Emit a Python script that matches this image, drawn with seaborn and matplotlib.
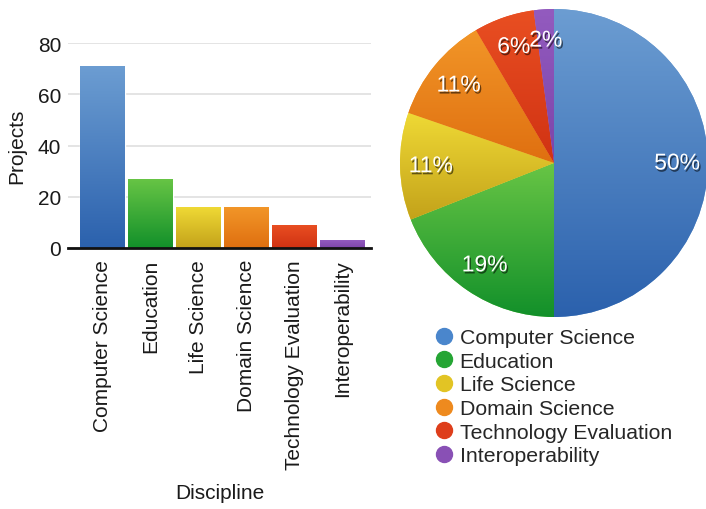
import numpy as np
import pandas as pd
import matplotlib
matplotlib.use("Agg")
import matplotlib.pyplot as plt
import matplotlib.patheffects as pe
from matplotlib.colors import LinearSegmentedColormap
from matplotlib.lines import Line2D
import seaborn as sns

disciplines = ["Computer Science", "Education", "Life Science", "Domain Science",
               "Technology Evaluation", "Interoperability"]
projects = [71, 27, 16, 16, 9, 3]
y_ticks = [0, 20, 40, 60, 80]

# light (top), dark (bottom) and middle shade of each discipline colour
top_colors = ["#6c9dd2", "#68c545", "#efd935", "#f29628", "#e94f22", "#935bbf"]
bottom_colors = ["#2b61ad", "#12902a", "#c3a21a", "#df6f10", "#d03213", "#7c44a9"]
mid_colors = ["#4a86cc", "#25a534", "#e2c424", "#ee8a1e", "#de3e1b", "#8950b5"]

sns.set_style("white")
plt.rcParams["font.family"] = ["Liberation Sans", "DejaVu Sans"]

fig = plt.figure(figsize=(7.06, 5.10), dpi=100)

W, H = 706, 510


def px_axes(left, top, right, bottom):
    return fig.add_axes([left / W, 1 - bottom / H, (right - left) / W, (bottom - top) / H])


def shade(ax, patch, c_top, c_bottom, ext):
    cmap = LinearSegmentedColormap.from_list("g", [c_bottom, c_top])
    grad = np.linspace(0, 1, 256).reshape(-1, 1)
    im = ax.imshow(grad, cmap=cmap, extent=ext, origin="lower", aspect="auto",
                   interpolation="bicubic", zorder=patch.get_zorder() + 0.1)
    im.set_clip_path(patch)


# ---- bar chart ----
ax = px_axes(68, 44, 371, 249)
df = pd.DataFrame({"Discipline": disciplines, "Projects": projects})
sns.barplot(data=df, x="Discipline", y="Projects", hue="Discipline",
            palette=top_colors, width=0.92, legend=False, ax=ax, zorder=2)
for patch, ct, cb in zip(ax.patches, top_colors, bottom_colors):
    x0, y0 = patch.get_x(), patch.get_y()
    w, h = patch.get_width(), patch.get_height()
    shade(ax, patch, ct, cb, (x0, x0 + w, y0, y0 + h))
ax.set_xlim(-0.72, 5.6)
ax.set_ylim(0, 80)
ax.set_yticks(y_ticks)
ax.yaxis.grid(True, color="#e4e4e4", lw=1.4, zorder=0)
ax.set_axisbelow(True)
for s in ["left", "top", "right"]:
    ax.spines[s].set_visible(False)
ax.spines["bottom"].set_color("#111111")
ax.spines["bottom"].set_linewidth(2)
ax.tick_params(axis="both", length=0, labelsize=15, colors="#1a1a1a")
ax.tick_params(axis="y", pad=5)
ax.tick_params(axis="x", pad=8)
ax.set_xticks(range(len(disciplines)))
ax.set_xticklabels(disciplines, rotation=90, ha="center", va="top")
ax.set_ylabel("Projects", fontsize=15, color="#1a1a1a", labelpad=8)
ax.set_xlabel("Discipline", fontsize=15, color="#1a1a1a", labelpad=10)

# ---- pie chart ----
pax = px_axes(400, 10, 708, 318)
wedges, texts, autotexts = pax.pie(
    projects, startangle=90, counterclock=False, radius=1,
    colors=top_colors, pctdistance=0.8,
    autopct=lambda p: f"{round(p):d}%",
    wedgeprops=dict(linewidth=0),
    textprops=dict(color="white", fontsize=16.5))
for wdg, ct, cb in zip(wedges, top_colors, bottom_colors):
    bb = wdg.get_path().get_extents()
    shade(pax, wdg, ct, cb, (bb.x0, bb.x1, bb.y0, bb.y1))
for t in autotexts:
    t.set_zorder(10)
    t.set_path_effects([pe.withSimplePatchShadow(offset=(1, -1.5), shadow_rgbFace="black", alpha=0.55)])
pax.set_xlim(-1, 1)
pax.set_ylim(-1, 1)
pax.set_aspect("equal")
pax.axis("off")

# ---- legend ----
handles = [Line2D([], [], marker="o", ls="", markersize=11.5,
                  markerfacecolor=c, markeredgecolor=c) for c in mid_colors]
fig.legend(handles, disciplines, loc="upper left", bbox_to_anchor=(433 / W, 1 - 329 / H),
           frameon=False, fontsize=15.3, handletextpad=0.25, labelspacing=0.22,
           handlelength=1.0, borderpad=0, borderaxespad=0)

fig.savefig("out.png", dpi=100)
